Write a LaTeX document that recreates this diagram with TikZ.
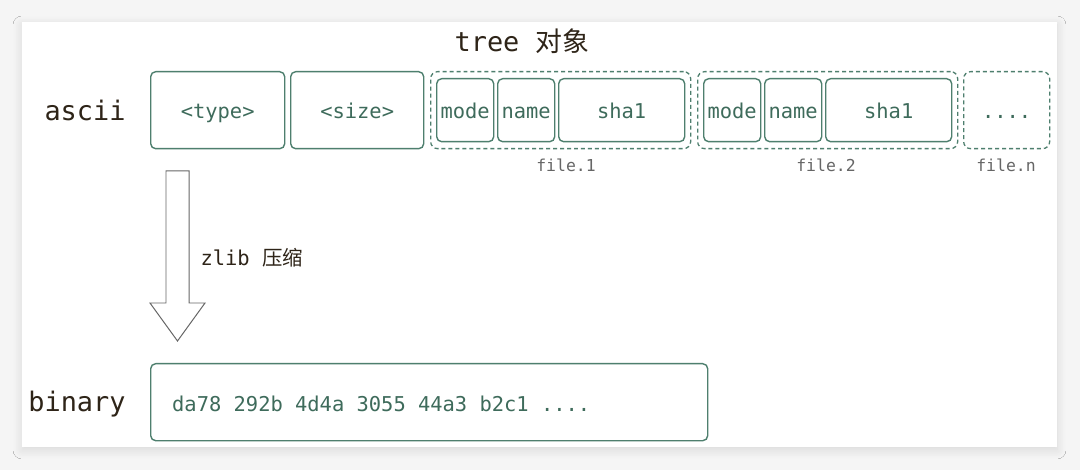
\documentclass[tikz,border=0pt]{standalone}
\usepackage{fontspec}
\setmonofont{DejaVu Sans Mono}
\newfontfamily\cjk{Noto Sans CJK SC}
\usetikzlibrary{shadows.blur}
\definecolor{grn}{HTML}{4E7F6E}
\definecolor{grntxt}{HTML}{3E6B5B}
\definecolor{brn}{HTML}{2E2418}
\definecolor{bgg}{HTML}{F5F5F5}
\definecolor{lbl}{HTML}{666666}
\tikzset{
  fld/.style={draw=grn, line width=1.4pt, rounded corners=5pt, inner sep=0pt, text=grntxt,
    text height=16.5bp, text depth=0pt,
    font=\fontsize{20.5}{22}\selectfont\ttfamily},
  grp/.style={draw=grn, line width=1.3pt, dash pattern=on 4pt off 3pt, rounded corners=7pt, inner sep=0pt},
  side/.style={text=brn, font=\fontsize{27}{29}\selectfont\ttfamily},
  flab/.style={text=lbl, font=\fontsize{16.5}{18}\selectfont\ttfamily}
}
\begin{document}
\begin{tikzpicture}[x=1bp,y=-1bp]
\useasboundingbox (0,0) rectangle (1080,470);
\fill[bgg] (0,0) rectangle (1080,470);
\fill[white, blur shadow={shadow blur steps=12, shadow xshift=0pt, shadow yshift=-3pt, shadow blur radius=9pt, shadow opacity=12}] (22,22) rectangle (1057,447);
% title
\node[side, anchor=center] (title) at (522,41) {tree {\cjk 对象}};
\node[side, anchor=center] (ascii) at (85,110) {ascii};
\node[side, anchor=center] (binary) at (77,404) {binary};
% header fields
\node[fld, minimum width=134bp, minimum height=77bp, anchor=north west] (type) at (150,71) {<type>};
\node[fld, minimum width=133bp, minimum height=77bp, anchor=north west] (size) at (290,71) {<size>};
% file.1
\node[grp, minimum width=260bp, minimum height=77bp, anchor=north west] (g1) at (430,71) {};
\node[fld, minimum width=57bp, minimum height=63bp, anchor=north west] (m1) at (436,78) {mode};
\node[fld, minimum width=57bp, minimum height=63bp, anchor=north west] (n1) at (497,78) {name};
\node[fld, minimum width=126bp, minimum height=63bp, anchor=north west] (s1) at (558,78) {sha1};
% file.2
\node[grp, minimum width=260bp, minimum height=77bp, anchor=north west] (g2) at (697,71) {};
\node[fld, minimum width=57bp, minimum height=63bp, anchor=north west] (m2) at (703,78) {mode};
\node[fld, minimum width=57bp, minimum height=63bp, anchor=north west] (n2) at (764,78) {name};
\node[fld, minimum width=126bp, minimum height=63bp, anchor=north west] (s2) at (825,78) {sha1};
% file.n
\node[grp, minimum width=86bp, minimum height=77bp, anchor=north west, text=grntxt, text height=16.5bp, text depth=0pt, font=\fontsize{20.5}{22}\selectfont\ttfamily] (gn) at (963,71) {....};
% labels
\node[flab] (l1) at (566,165) {file.1};
\node[flab] (l2) at (826,165) {file.2};
\node[flab] (ln) at (1006,165) {file.n};
% arrow
\draw[draw=black!60, line width=1pt, fill=white, line join=miter]
  (166,171) -- (189,171) -- (189,303) -- (205,303) -- (177.5,341) -- (150,303) -- (166,303) -- cycle;
\node[text=brn, font=\fontsize{20.5}{22}\selectfont\ttfamily, anchor=west] (zlib) at (197,258) {zlib {\cjk 压缩}};
% binary box
\node[fld, minimum width=557bp, minimum height=77bp, anchor=north west] (bin) at (150,363) {};
\node[text=grntxt, font=\fontsize{20.5}{22}\selectfont\ttfamily, anchor=west, inner sep=0pt] (bintxt) at (172,404) {da78 292b 4d4a 3055 44a3 b2c1 ....};
\end{tikzpicture}
\end{document}
